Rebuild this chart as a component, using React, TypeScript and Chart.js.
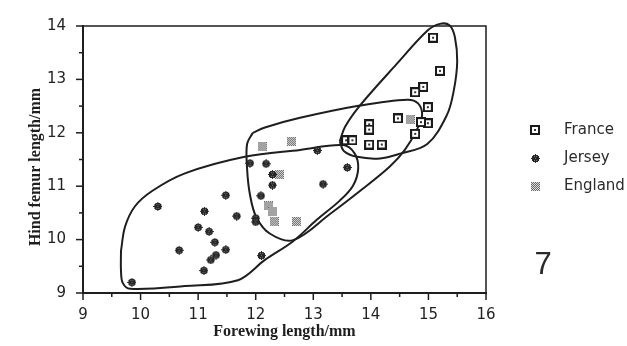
import React, { useEffect, useRef } from "react";
import { Chart, registerables } from "chart.js";

Chart.register(...registerables);

// ---- Data ----
const franceX = [15.08, 15.2, 14.91, 14.77, 14.99, 14.47, 14.99, 14.87, 13.97, 13.97, 14.77, 13.57, 13.68, 13.97, 14.19];
const franceY = [13.78, 13.16, 12.86, 12.76, 12.48, 12.27, 12.18, 12.2, 12.16, 12.06, 11.98, 11.86, 11.86, 11.78, 11.78];

const jerseyX = [9.85, 10.3, 10.67, 11.0, 11.11, 11.19, 11.29, 11.48, 11.22, 11.31, 11.1, 11.48, 11.67, 12.1, 12.0, 12.0, 12.09, 11.9, 12.18, 12.29, 12.29, 13.07, 13.17, 13.59];
const jerseyY = [9.2, 10.62, 9.8, 10.23, 10.53, 10.15, 9.95, 9.81, 9.62, 9.71, 9.42, 10.83, 10.44, 9.7, 10.4, 10.33, 10.82, 11.43, 11.42, 11.22, 11.02, 11.67, 11.04, 11.35];

const englandX = [12.11, 12.62, 12.41, 12.22, 12.3, 12.32, 12.71, 14.68];
const englandY = [11.74, 11.84, 11.22, 10.63, 10.52, 10.34, 10.34, 12.25];

// Hand-drawn enclosing outlines (data coordinates)
const jerseyHullX = [9.66, 9.66, 9.69, 9.82, 10.77, 11.69, 12.16, 12.65, 13.06, 13.46, 13.69, 13.78, 13.72, 13.52, 12.77, 11.81, 10.77, 10.2, 9.9, 9.73, 9.66];
const jerseyHullY = [9.79, 9.42, 9.19, 9.08, 9.13, 9.24, 9.62, 9.97, 10.37, 10.73, 11.01, 11.33, 11.61, 11.77, 11.68, 11.55, 11.24, 10.91, 10.62, 10.24, 9.79];

const englandHullX = [11.95, 11.85, 11.85, 11.9, 12.01, 12.25, 12.65, 13.29, 13.81, 14.33, 14.59, 14.8, 14.89, 14.82, 14.63, 13.81, 12.77, 12.16, 11.95];
const englandHullY = [12.0, 11.79, 11.33, 10.84, 10.42, 10.11, 9.99, 10.48, 10.91, 11.37, 11.68, 12.06, 12.33, 12.55, 12.62, 12.51, 12.28, 12.1, 12.0];

const franceHullX = [13.46, 13.55, 13.81, 14.45, 14.98, 15.2, 15.37, 15.46, 15.5, 15.44, 15.32, 14.98, 14.51, 14.16, 13.76, 13.53, 13.46];
const franceHullY = [11.84, 12.11, 12.51, 13.29, 13.91, 14.04, 14.01, 13.79, 13.33, 12.79, 12.33, 11.79, 11.61, 11.52, 11.55, 11.66, 11.84];

const seriesNames = ["France", "Jersey", "England"];
const xMajorTicks = [9, 10, 11, 12, 13, 14, 15, 16];
const yMajorTicks = [9, 10, 11, 12, 13, 14];

const xTitle = "Forewing length/mm";
const yTitle = "Hind femur length/mm";
const panelLabel = "7";

const zip = (xs: number[], ys: number[]) => xs.map((x, i) => ({ x, y: ys[i] }));

function makeMarker(kind: string): HTMLCanvasElement {
  const c = document.createElement("canvas");
  if (kind === "France") {
    c.width = 10; c.height = 10;
    const g = c.getContext("2d")!;
    g.fillStyle = "#1a1a1a"; g.fillRect(0, 0, 10, 10);
    g.fillStyle = "#ffffff"; g.fillRect(2, 2, 6, 6);
    g.fillStyle = "#333333"; g.fillRect(4, 4, 2, 2);
  } else if (kind === "Jersey") {
    const pat = [
      "....#....",
      "..#####..",
      ".##.#.##.",
      ".#######.",
      "####.####",
      ".#######.",
      ".##.#.##.",
      "..#####..",
      "....#....",
    ];
    c.width = 9; c.height = 9;
    const g = c.getContext("2d")!;
    pat.forEach((row, r) => {
      for (let k = 0; k < row.length; k++) {
        if (row[k] === "#") { g.fillStyle = "#262626"; g.fillRect(k, r, 1, 1); }
        else if (r > 0 && r < 8 && k > 0 && k < 8 && Math.abs(r - 4) + Math.abs(k - 4) < 5) { g.fillStyle = "#777"; g.fillRect(k, r, 1, 1); }
      }
    });
  } else {
    c.width = 9; c.height = 9;
    const g = c.getContext("2d")!;
    for (let r = 0; r < 9; r++) {
      for (let k = 0; k < 9; k++) {
        g.fillStyle = (r + k) % 2 === 0 ? "#6a6a6a" : "#dcdcdc";
        g.fillRect(k, r, 1, 1);
      }
    }
  }
  return c;
}

export default function App() {
  const ref = useRef<HTMLCanvasElement | null>(null);

  useEffect(() => {
    if (!ref.current) return;
    const markers: Record<string, HTMLCanvasElement> = {
      France: makeMarker("France"),
      Jersey: makeMarker("Jersey"),
      England: makeMarker("England"),
    };
    const ink = "#1e1e1e";
    const tickFont = { family: '"DejaVu Sans", sans-serif', size: 15 };

    const decor = {
      id: "decor",
      afterDraw(chart: any) {
        const { ctx, chartArea: ca, scales } = chart;
        ctx.save();
        ctx.strokeStyle = ink;
        // frame
        ctx.lineWidth = 1.5;
        ctx.beginPath();
        ctx.moveTo(ca.left, ca.top); ctx.lineTo(ca.right, ca.top); ctx.lineTo(ca.right, ca.bottom);
        ctx.stroke();
        ctx.lineWidth = 2;
        ctx.beginPath();
        ctx.moveTo(ca.left, ca.top - 1); ctx.lineTo(ca.left, ca.bottom); ctx.lineTo(ca.right + 1, ca.bottom);
        ctx.stroke();
        // tick marks
        ctx.lineWidth = 1.5;
        for (const t of scales.x.ticks) {
          const px = scales.x.getPixelForValue(t.value);
          const len = xMajorTicks.includes(t.value) ? 7 : 4;
          ctx.beginPath(); ctx.moveTo(px, ca.bottom); ctx.lineTo(px, ca.bottom + len); ctx.stroke();
        }
        for (const t of scales.y.ticks) {
          const py = scales.y.getPixelForValue(t.value);
          const len = yMajorTicks.includes(t.value) ? 7 : 4;
          ctx.beginPath(); ctx.moveTo(ca.left, py); ctx.lineTo(ca.left - len, py); ctx.stroke();
        }
        // y title
        ctx.fillStyle = ink;
        ctx.font = 'bold 16px "Liberation Serif", serif';
        ctx.textAlign = "center";
        ctx.textBaseline = "alphabetic";
        ctx.save();
        ctx.translate(40, 167);
        ctx.rotate(-Math.PI / 2);
        ctx.fillText(yTitle, 0, 0);
        ctx.restore();
        // legend
        ctx.font = '15px "DejaVu Sans", sans-serif';
        ctx.textAlign = "left";
        ctx.textBaseline = "middle";
        ctx.fillStyle = "#2a2a2a";
        seriesNames.forEach((name, i) => {
          const y = 130 + i * 28;
          const m = markers[name];
          ctx.drawImage(m, Math.round(535 - m.width / 2), Math.round(y - m.height / 2));
          ctx.fillText(name, 564, y);
        });
        // panel number
        ctx.font = '31px "Liberation Sans", sans-serif';
        ctx.textAlign = "center";
        ctx.fillStyle = "#2a2a2a";
        ctx.fillText(panelLabel, 543, 265);
        ctx.restore();
      },
    };

    const hull = (xs: number[], ys: number[]) => ({
      data: zip(xs, ys),
      showLine: true,
      pointRadius: 0,
      borderColor: ink,
      borderWidth: 2,
      tension: 0.35,
      fill: false,
      clip: false as any,
      order: 2,
    });

    const pts = (name: string, xs: number[], ys: number[]) => ({
      label: name,
      data: zip(xs, ys),
      pointStyle: markers[name],
      pointRadius: 5,
      showLine: false,
      order: 0,
    });

    const chart = new Chart(ref.current, {
      type: "scatter",
      data: {
        datasets: [
          pts("France", franceX, franceY),
          pts("Jersey", jerseyX, jerseyY),
          pts("England", englandX, englandY),
          hull(jerseyHullX, jerseyHullY),
          hull(englandHullX, englandHullY),
          hull(franceHullX, franceHullY),
        ] as any,
      },
      options: {
        responsive: false,
        maintainAspectRatio: false,
        devicePixelRatio: 1,
        animation: false,
        layout: { padding: { top: 18, right: 141, left: 0, bottom: 0 } },
        plugins: { legend: { display: false }, tooltip: { enabled: false } },
        scales: {
          x: {
            type: "linear",
            position: "bottom",
            min: 9,
            max: 16,
            grid: { display: false, drawTicks: false },
            border: { display: false },
            ticks: {
              stepSize: 0.5,
              autoSkip: false,
              maxRotation: 0,
              padding: 13,
              color: "#222",
              font: tickFont,
              callback: (v: any) => (xMajorTicks.includes(Number(v)) ? String(v) : ""),
            },
            title: {
              display: true,
              text: xTitle,
              color: ink,
              font: { family: '"Liberation Serif", serif', size: 16, weight: "bold" },
              padding: { top: 0, bottom: 5 },
            },
            afterFit: (s: any) => { s.height = 53; },
          },
          y: {
            type: "linear",
            position: "left",
            min: 9,
            max: 14,
            grid: { display: false, drawTicks: false },
            border: { display: false },
            ticks: {
              stepSize: 0.5,
              autoSkip: false,
              padding: 17,
              color: "#222",
              font: tickFont,
              callback: (v: any) => (yMajorTicks.includes(Number(v)) ? String(v) : ""),
            },
            afterFit: (s: any) => { s.width = 83; },
          },
        },
      } as any,
      plugins: [decor],
    });
    return () => chart.destroy();
  }, []);

  return (
    <div style={{ position: "fixed", left: 0, top: 0, width: 627, height: 346, background: "#fff" }}>
      <canvas ref={ref} width={627} height={346} style={{ display: "block" }} />
    </div>
  );
}
